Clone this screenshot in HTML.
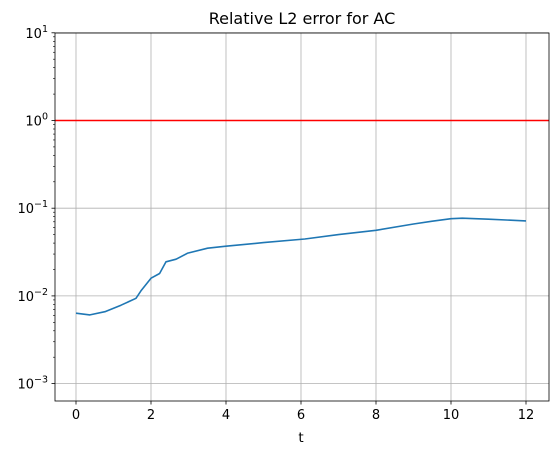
<!DOCTYPE html>
<html><head><meta charset="utf-8"><style>
body{margin:0;background:#fff;}
svg text{font-family:"DejaVu Sans","Liberation Sans",sans-serif;fill:#000;}
</style></head><body>
<svg id="chart" width="559" height="455" xmlns="http://www.w3.org/2000/svg">
<rect width="559" height="455" fill="#fff"/>
<g id="grid"></g><g id="series"></g><g id="axes"></g>
<text x="302" y="24" font-size="16" text-anchor="middle">Relative L2 error for AC</text>
<text x="301" y="442" font-size="13.5" text-anchor="middle">t</text>
</svg>
<script>
const tValues=[0,0.37,0.77,1.2,1.6,1.73,2.0,2.23,2.4,2.67,2.98,3.51,4,5,6.1,7,8,9,9.5,10,10.3,11,12];
const errValues=[0.00635,0.00607,0.0066,0.00783,0.0094,0.0114,0.0159,0.018,0.0245,0.0262,0.0308,0.035,0.0369,0.0405,0.0445,0.050,0.056,0.066,0.071,0.076,0.077,0.075,0.0716];
const xTicks=[0,2,4,6,8,10,12];
const yTickExps=[-3,-2,-1,0,1];
const refValue=[1];
const L=55,R=549,T=33,B=401;
const xS=t=>76+t*37.5;
const yS=v=>120.5-Math.log10(v)*87.7;
const ns="http://www.w3.org/2000/svg";
function mk(tag,attrs,parent){const e=document.createElementNS(ns,tag);for(const k in attrs)e.setAttribute(k,attrs[k]);parent.appendChild(e);return e;}
const grid=document.getElementById('grid'),axes=document.getElementById('axes'),ser=document.getElementById('series');
xTicks.forEach(t=>{const x=xS(t);
 const g=mk('line',{x1:x,x2:x,y1:T,y2:B,stroke:'#b0b0b0','stroke-width':0.8},grid);
 
 
 mk('line',{x1:x,x2:x,y1:B,y2:B+3.5,stroke:'#000','stroke-width':0.8},axes);
 const tx=mk('text',{x:x,y:B+18,'font-size':13,'text-anchor':'middle'},axes);tx.textContent=t;
 
 
});
yTickExps.forEach(e=>{const y=yS(Math.pow(10,e));
 const g=mk('line',{x1:L,x2:R,y1:y,y2:y,stroke:'#b0b0b0','stroke-width':0.8},grid);
 
 
 mk('line',{x1:L-3.5,x2:L,y1:y,y2:y,stroke:'#000','stroke-width':0.8},axes);
 const tx=mk('text',{x:L-7,y:y+5,'font-size':13,'text-anchor':'end'},axes);
 tx.textContent='10';
 const s=mk('tspan',{dy:-6,'font-size':9.5},tx);s.textContent=(e<0?'\u2212':'')+Math.abs(e);
 
 
 for(let k=2;k<10;k++){const ym=yS(k*Math.pow(10,e));if(ym>T&&ym<B)mk('line',{x1:L-2,x2:L,y1:ym,y2:ym,stroke:'#000','stroke-width':0.6},axes);}
});
const frame=mk('rect',{x:L,y:T,width:R-L,height:B-T,fill:'none',stroke:'#000','stroke-width':0.8},axes);


const ref=mk('line',{x1:L,x2:R,y1:yS(refValue[0]),y2:yS(refValue[0]),stroke:'#ff0000','stroke-width':1.5},ser);


const d=tValues.map((t,i)=>(i?'L':'M')+xS(t).toFixed(1)+','+yS(errValues[i]).toFixed(1)).join(' ');
const p=mk('path',{d:d,fill:'none',stroke:'#1f77b4','stroke-width':1.6,'stroke-linejoin':'round'},ser);


</script>
</body></html>
